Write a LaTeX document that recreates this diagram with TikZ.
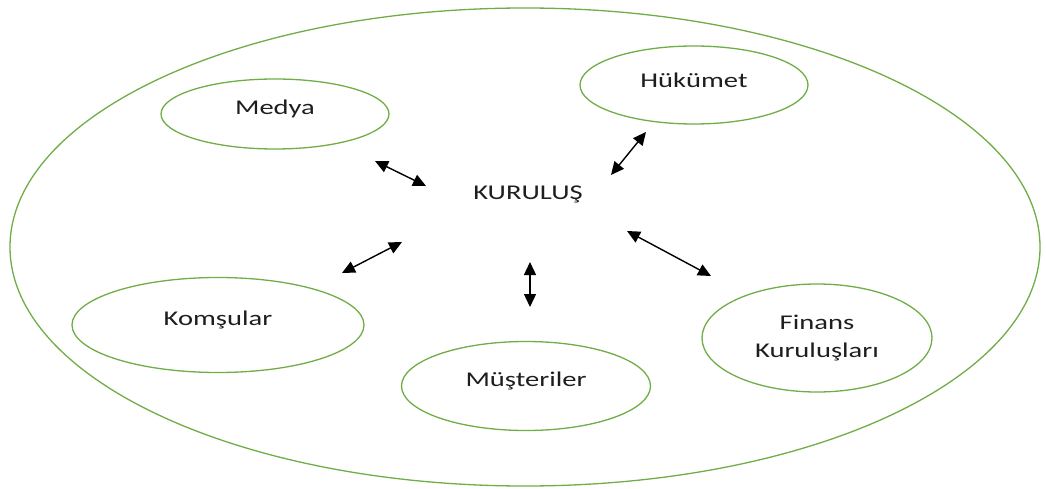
\documentclass[tikz,border=0pt]{standalone}
\usepackage{fontspec}
\setmainfont{Carlito}
\usepackage{graphicx}
\usepackage{tikz}
\usetikzlibrary{arrows.meta,shapes.geometric}
\definecolor{ringcolor}{RGB}{112,173,71}
\definecolor{textcolor}{RGB}{30,30,30}
\newcommand{\wide}[1]{\scalebox{1.36}[1]{#1}}
\newcommand{\lifted}[1]{\raisebox{5pt}[\height][\depth]{\wide{#1}}}

\begin{document}
\begin{tikzpicture}[x=1pt,y=-1pt,
    every node/.style={font=\fontsize{21}{28}\selectfont,text=textcolor},
    actor/.style={draw=ringcolor,line width=1.3pt,ellipse,inner sep=0pt,align=center},
    link/.style={{Triangle[length=13pt,width=12pt]}-{Triangle[length=13pt,width=12pt]},
                 line width=1.4pt,black}]

  \useasboundingbox (0,0) rectangle (1046,489);

  % Environment (outer ring)
  \node[actor,minimum width=1030pt,minimum height=478pt] (env) at (525,247) {};

  % Organisation in the middle
  \node (org) at (528,194) {\wide{KURULUŞ}};

  % Stakeholders
  \node[actor,minimum width=228pt,minimum height=70pt]  (medya)   at (275,114) {\lifted{Medya}};
  \node[actor,minimum width=228pt,minimum height=78pt]  (hukumet) at (694,85)  {\lifted{Hükümet}};
  \node[actor,minimum width=292pt,minimum height=95pt]  (komsu)   at (218,325) {\lifted{Komşular}};
  \node[actor,minimum width=249pt,minimum height=89pt]  (musteri) at (526,386) {\lifted{Müşteriler}};
  \node[actor,minimum width=230pt,minimum height=108pt] (finans)  at (817,338)
    {\wide{Finans}\\\wide{Kuruluşları}};

  % Arrow end points
  \coordinate (m1) at (375,161);  \coordinate (m2) at (426,186);
  \coordinate (h1) at (611,175);  \coordinate (h2) at (646,132);
  \coordinate (k1) at (342,273);  \coordinate (k2) at (402,242);
  \coordinate (u1) at (530,262);  \coordinate (u2) at (530,307);
  \coordinate (f1) at (627,231);  \coordinate (f2) at (711,276);

  % Two-way relations
  \draw[link] (m1) -- (m2);
  \draw[link] (h1) -- (h2);
  \draw[link] (k1) -- (k2);
  \draw[link] (u1) -- (u2);
  \draw[link] (f1) -- (f2);

\end{tikzpicture}
\end{document}
